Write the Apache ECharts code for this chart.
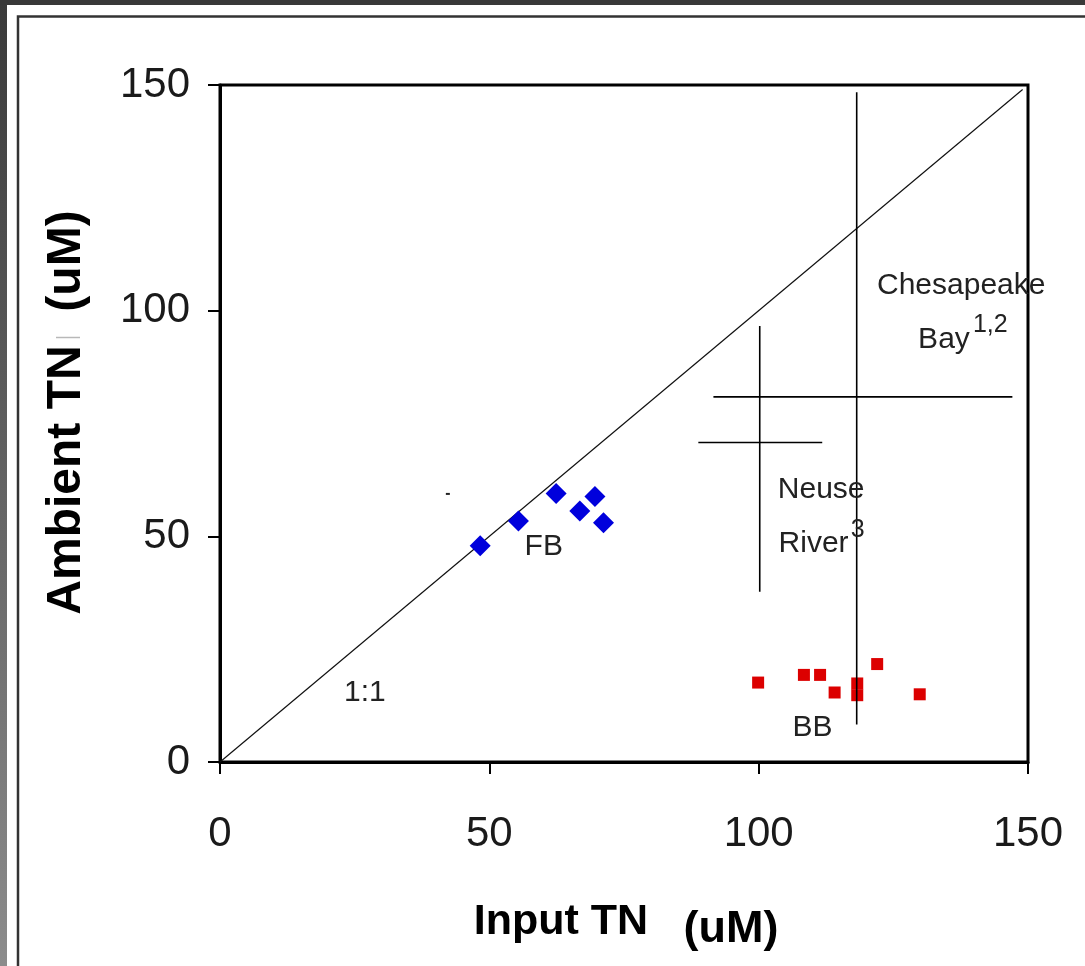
<!DOCTYPE html>
<html><head><meta charset="utf-8">
<script src="https://cdn.jsdelivr.net/npm/echarts@6/dist/echarts.min.js"></script>
<style>html,body{margin:0;padding:0;background:#fff;overflow:hidden}#c{width:1085px;height:966px}</style>
</head><body><div id="c"></div>
<script>
// ---- data ----
const axisTicks = [0, 50, 100, 150];
const fbInput   = [48.3, 55.4, 62.4, 66.8, 69.6, 71.2];
const fbAmbient = [47.9, 53.4, 59.5, 55.6, 58.8, 53.0];
const bbInput   = [99.9, 108.4, 111.4, 114.1, 118.3, 118.3, 122.0, 129.9];
const bbAmbient = [17.6, 19.3, 19.3, 15.4, 17.4, 14.8, 21.7, 15.0];
const oneToOne  = [0, 149];
const crossNames = ['Chesapeake Bay', 'Neuse River'];
const crossX     = [118.2, 100.2];
const crossY     = [80.9, 70.8];
const crossXLow  = [91.6, 88.8];
const crossXHigh = [147.1, 111.8];
const crossYLow  = [8.3, 37.7];
const crossYHigh = [148.4, 96.6];
const strayInput = [42.3];
const strayAmbient = [59.4];
// annotations
const noteText = ['FB', 'BB', '1:1', 'Chesapeake', 'Bay', '1,2', 'Neuse', 'River', '3'];
const noteX    = [60.1, 110.0, 26.9, 137.6, 134.4, 143.0, 111.6, 110.2, 118.4];
const noteY    = [47.7, 7.7, 15.4, 105.6, 93.5, 96.9, 60.3, 48.3, 51.4];
const noteSup  = [false, false, false, false, false, true, false, false, true];

const FONT = '"Liberation Sans", Arial, sans-serif';
const chart = echarts.init(document.getElementById('c'), null, {renderer: 'canvas'});

const series = [];
series.push({
  name: '1:1', type: 'line', data: [[oneToOne[0], oneToOne[0]], [oneToOne[1], oneToOne[1]]],
  symbol: 'none', lineStyle: {color: '#111', width: 1.2}, silent: true, z: 2
});
for (let i = 0; i < crossNames.length; i++) {
  series.push({
    name: crossNames[i] + ' x', type: 'line', symbol: 'none', silent: true, z: 3,
    lineStyle: {color: '#000', width: 1.6},
    data: [[crossXLow[i], crossY[i]], [crossXHigh[i], crossY[i]]]
  });
  series.push({
    name: crossNames[i] + ' y', type: 'line', symbol: 'none', silent: true, z: 3,
    lineStyle: {color: '#000', width: 1.6},
    data: [[crossX[i], crossYLow[i]], [crossX[i], crossYHigh[i]]]
  });
}
series.push({
  name: 'FB', type: 'scatter', symbol: 'diamond', symbolSize: 21,
  itemStyle: {color: '#0000dc', opacity: 1}, z: 4,
  data: fbInput.map((v, i) => [v, fbAmbient[i]])
});
series.push({
  name: 'BB', type: 'scatter', symbol: 'rect', symbolSize: 12,
  itemStyle: {color: '#dc0000', opacity: 1}, z: 2,
  data: bbInput.map((v, i) => [v, bbAmbient[i]])
});
series.push({
  name: 'stray', type: 'scatter', symbol: 'rect', symbolSize: [4, 2],
  itemStyle: {color: '#222', opacity: 1}, silent: true,
  data: strayInput.map((v, i) => [v, strayAmbient[i]])
});
series.push({
  name: 'notes', type: 'scatter', symbolSize: 1, silent: true, z: 10,
  itemStyle: {color: 'rgba(0,0,0,0)', opacity: 1},
  data: noteText.map((t, i) => ({
    value: [noteX[i], noteY[i]],
    label: {
      show: true, position: 'inside', formatter: t,
      fontFamily: FONT, fontSize: noteSup[i] ? 25 : 30, color: '#222', opacity: 1
    }
  }))
});

const axisCommon = {
  type: 'value', min: 0, max: 150, interval: 50,
  splitLine: {show: false},
  axisLine: {show: true, onZero: false, lineStyle: {color: '#000', width: 3}},
  axisTick: {show: true, inside: false, length: 12, lineStyle: {color: '#000', width: 2}},
};

chart.setOption({
  animation: false,
  backgroundColor: '#ffffff',
  textStyle: {fontFamily: FONT},
  grid: {left: 220, top: 85, width: 808, height: 677, show: true, borderColor: '#000', borderWidth: 3, backgroundColor: 'transparent'},
  xAxis: Object.assign({}, axisCommon, {
    axisLabel: {margin: 51, fontSize: 42, color: '#1a1a1a', fontFamily: FONT,
      formatter: v => axisTicks.includes(v) ? String(v) : ''}
  }),
  yAxis: Object.assign({}, axisCommon, {
    axisLabel: {margin: 30, fontSize: 42, color: '#1a1a1a', fontFamily: FONT,
      formatter: v => axisTicks.includes(v) ? String(v) : ''}
  }),
  series: series,
  graphic: [
    {type: 'rect', z: -10, silent: true, shape: {x: 0, y: 0, width: 1085, height: 966}, style: {fill: '#393939'}},
    {type: 'rect', z: -9, silent: true, shape: {x: 0, y: 5, width: 8, height: 961},
      style: {fill: new echarts.graphic.LinearGradient(0, 0, 0, 1, [{offset: 0, color: '#3a3a3a'}, {offset: 1, color: '#8c8c8c'}])}},
    {type: 'rect', z: -8, silent: true, shape: {x: 7, y: 5, width: 1078, height: 961}, style: {fill: '#ffffff'}},
    {type: 'rect', z: -7, silent: true, shape: {x: 18, y: 16.5, width: 1100, height: 1000}, style: {fill: '#ffffff', stroke: '#333', lineWidth: 2.5}},
    {type: 'text', silent: true, x: 67, y: 480, rotation: Math.PI / 2,
      style: {text: 'Ambient TN', font: 'bold 48px ' + FONT, fill: '#000', align: 'center', verticalAlign: 'middle'}},
    {type: 'line', silent: true, shape: {x1: 56, y1: 337.5, x2: 80, y2: 337.5}, style: {stroke: '#b8b8b8', lineWidth: 1.5}},
    {type: 'text', silent: true, x: 67, y: 261, rotation: Math.PI / 2,
      style: {text: '(uM)', font: 'bold 48px ' + FONT, fill: '#000', align: 'center', verticalAlign: 'middle'}},
    {type: 'text', silent: true, x: 561, y: 922,
      style: {text: 'Input TN', font: 'bold 43px ' + FONT, fill: '#000', align: 'center', verticalAlign: 'middle'}},
    {type: 'text', silent: true, x: 731, y: 930,
      style: {text: '(uM)', font: 'bold 45px ' + FONT, fill: '#000', align: 'center', verticalAlign: 'middle'}}
  ]
});
</script></body></html>
